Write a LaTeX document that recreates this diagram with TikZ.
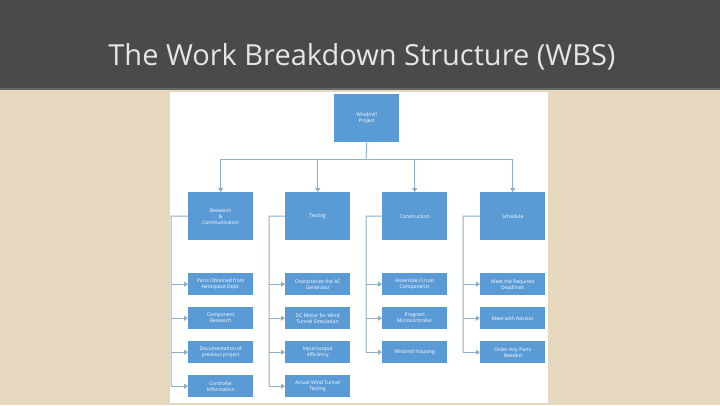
\documentclass[tikz,border=0pt]{standalone}
\usepackage{fontspec}
\setmainfont{Open Sans}
\usetikzlibrary{arrows.meta}
\definecolor{bg}{HTML}{E6D8BE}
\definecolor{bar}{HTML}{4A4A4A}
\definecolor{boxc}{HTML}{5B9BD5}
\definecolor{linec}{HTML}{8DAFCB}
\tikzset{
  bx/.style={fill=boxc,draw=none,text=white,font=\fontsize{5}{6}\selectfont,align=center,anchor=north west,inner sep=1pt},
  ln/.style={draw=linec,line width=1pt},
  ar/.style={ln,-{Triangle[width=5pt,length=4pt]}}
}
\begin{document}
\begin{tikzpicture}[x=1pt,y=-1pt]
\useasboundingbox (0,0) rectangle (720,405);
\fill[bg] (0,0) rectangle (720,405);
\fill[bar] (0,0) rectangle (720,88);
\fill[black!60] (0,88) rectangle (720,90);
\node[text=white!90!black,font=\fontsize{29}{34}\selectfont] (title) at (362,57) {The Work Breakdown Structure (WBS)};
\fill[white] (170,92) rectangle (548,403);
% top
\node[bx,minimum width=65pt,minimum height=48pt] (top) at (334,94) {Windmill\\Project};
% level 2
\foreach \n/\x/\t in {r/188/{Research\\\&\\Communication},t/285/Testing,c/382/Construction,s/480/Schedule}{
  \node[bx,minimum width=65pt,minimum height=48pt] (\n) at (\x,192) {\t};
}
\coordinate (bus) at (366,159);
\draw[ln] (top.south) -- (bus);
\draw[ln] (r.north |- bus) -- (s.north |- bus);
\foreach \n in {r,t,c,s}{\draw[ar] (\n.north |- bus) -- (\n.north);}
% children
\newcommand{\kid}[4]{\node[bx,minimum width=65pt,minimum height=22pt] (#1) at (#2,#3) {#4};}
\kid{r1}{188}{273}{Parts Obtained from\\Aerospace Dept.}
\kid{r2}{188}{307}{Component\\Research}
\kid{r3}{188}{341}{Documentation of\\previous project}
\kid{r4}{188}{375}{Controller\\Information}
\kid{t1}{285}{273}{Characterize the AC\\Generator}
\kid{t2}{285}{307}{DC Motor for Wind\\Tunnel Simulation}
\kid{t3}{285}{341}{Input/output\\efficiency}
\kid{t4}{285}{375}{Actual Wind Tunnel\\Testing}
\kid{c1}{382}{273}{Assemble Circuit\\Components}
\kid{c2}{382}{307}{Program\\Microcontroller}
\kid{c3}{382}{341}{Windmill housing}
\kid{s1}{480}{273}{Meet the Required\\Deadlines}
\kid{s2}{480}{307}{Meet with Advisor}
\kid{s3}{480}{341}{Order Any Parts\\Needed}
\foreach \p/\sx/\last/\ks in {r/171/r4/{r1,r2,r3,r4},t/269/t4/{t1,t2,t3,t4},c/366/c3/{c1,c2,c3},s/463/s3/{s1,s2,s3}}{
  \draw[ln] (\p.west) -- (\sx,216) -- (\sx,0 |- \last.west);
  \foreach \k in \ks {\draw[ar] (\sx,0 |- \k.west) -- (\k.west);}
}
\end{tikzpicture}
\end{document}
